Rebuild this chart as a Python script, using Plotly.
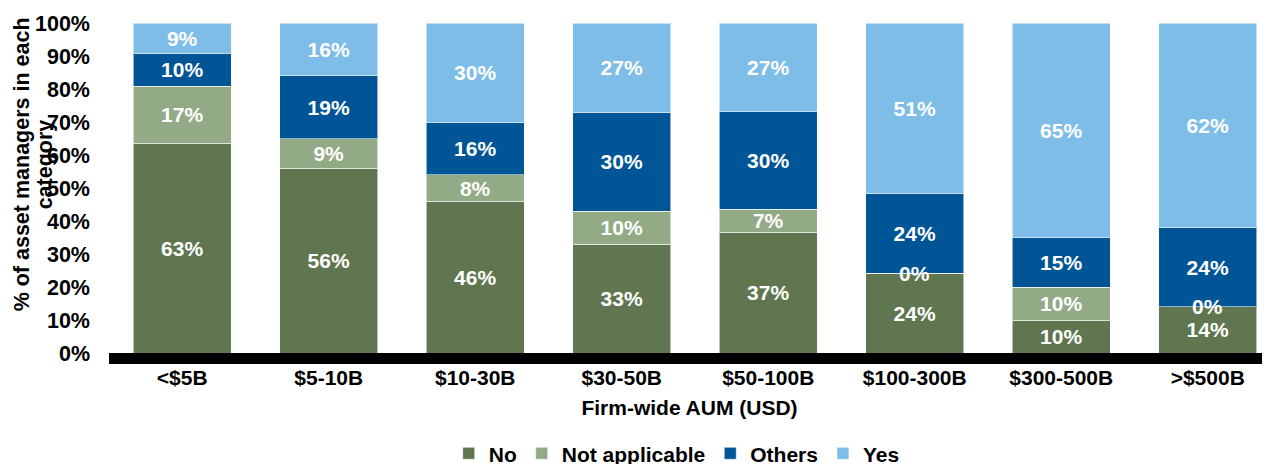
"""
Stacked bar chart: share of asset managers by answer, per firm-wide AUM bucket.
"""
import numpy as np
import plotly.graph_objects as go

categories = ["<$5B", "$5-10B", "$10-30B", "$30-50B", "$50-100B", "$100-300B", "$300-500B", ">$500B"]
answers = ["No", "Not applicable", "Others", "Yes"]

no_values = [63, 56, 46, 33, 37, 24, 10, 14]
not_applicable_values = [17, 9, 8, 10, 7, 0, 10, 0]
others_values = [10, 19, 16, 30, 30, 24, 15, 24]
yes_values = [9, 16, 30, 27, 27, 51, 65, 62]

colors = ["#5f7650", "#93aa87", "#005596", "#7dbde8"]

y_ticks = list(range(0, 101, 10))
y_tick_labels = [f"{t}%" for t in y_ticks]

FONT = "Arial, Liberation Sans, sans-serif"

series = [no_values, not_applicable_values, others_values, yes_values]


def bold(size, color="black"):
    return dict(family=FONT, size=size, color=color, weight="bold")


fig = go.Figure()
for name, values, color in zip(answers, series, colors):
    fig.add_trace(go.Bar(
        x=categories,
        y=values,
        name=name,
        marker=dict(color=color, line=dict(color="rgba(255,255,255,0.55)", width=1)),
        text=[f"{v}%" if v > 0 else "" for v in values],
        texttemplate="%{text}",
        textposition="inside",
        insidetextanchor="middle",
        textangle=0,
        textfont=bold(21, "white"),
        hoverinfo="x+name+text",
    ))

# zero-valued segments still get a label, sitting on the boundary
totals = np.sum(series, axis=0)
cumulative = np.cumsum(series, axis=0) / totals * 100
annotations = []
for i, values in enumerate(series):
    for j, v in enumerate(values):
        if v == 0:
            annotations.append(dict(
                x=categories[j], y=cumulative[i][j], xref="x", yref="y",
                text="0%", showarrow=False, yanchor="middle",
                font=bold(21, "white"),
            ))

# y-axis title in two tightly spaced lines, like the source
plot_w = 1161
for line, px in [("% of asset managers in each", 22), ("category", 45)]:
    annotations.append(dict(
        x=(px - 109) / plot_w, y=0.5716, xref="paper", yref="paper",
        text=line, textangle=-90, showarrow=False,
        xanchor="center", yanchor="middle",
        font=bold(21.5),
    ))

fig.update_layout(
    barmode="stack",
    barnorm="percent",
    bargap=0.33,
    width=1262,
    height=472,
    margin=dict(l=101, r=0, t=15, b=127),
    plot_bgcolor="white",
    paper_bgcolor="white",
    font=bold(21),
    uniformtext=dict(minsize=21, mode="show"),
    annotations=annotations,
    xaxis=dict(
        range=[-0.5, 7.425],
        showline=True,
        linecolor="black",
        linewidth=11,
        ticks="",
        ticklabelstandoff=-4,
        tickfont=bold(21),
        title=dict(text="Firm-wide AUM (USD)", standoff=17, font=bold(21)),
    ),
    yaxis=dict(
        range=[0, 100],
        tickvals=y_ticks,
        ticktext=y_tick_labels,
        showgrid=False,
        zeroline=False,
        showline=False,
        ticks="",
        ticklabelstandoff=18,
        tickfont=bold(21.5),
    ),
    legend=dict(
        orientation="h",
        x=0.489,
        xanchor="center",
        y=-0.305,
        yanchor="middle",
        traceorder="normal",
        font=bold(21),
        itemwidth=30,
    ),
    showlegend=True,
)

fig.write_html("out.html")
